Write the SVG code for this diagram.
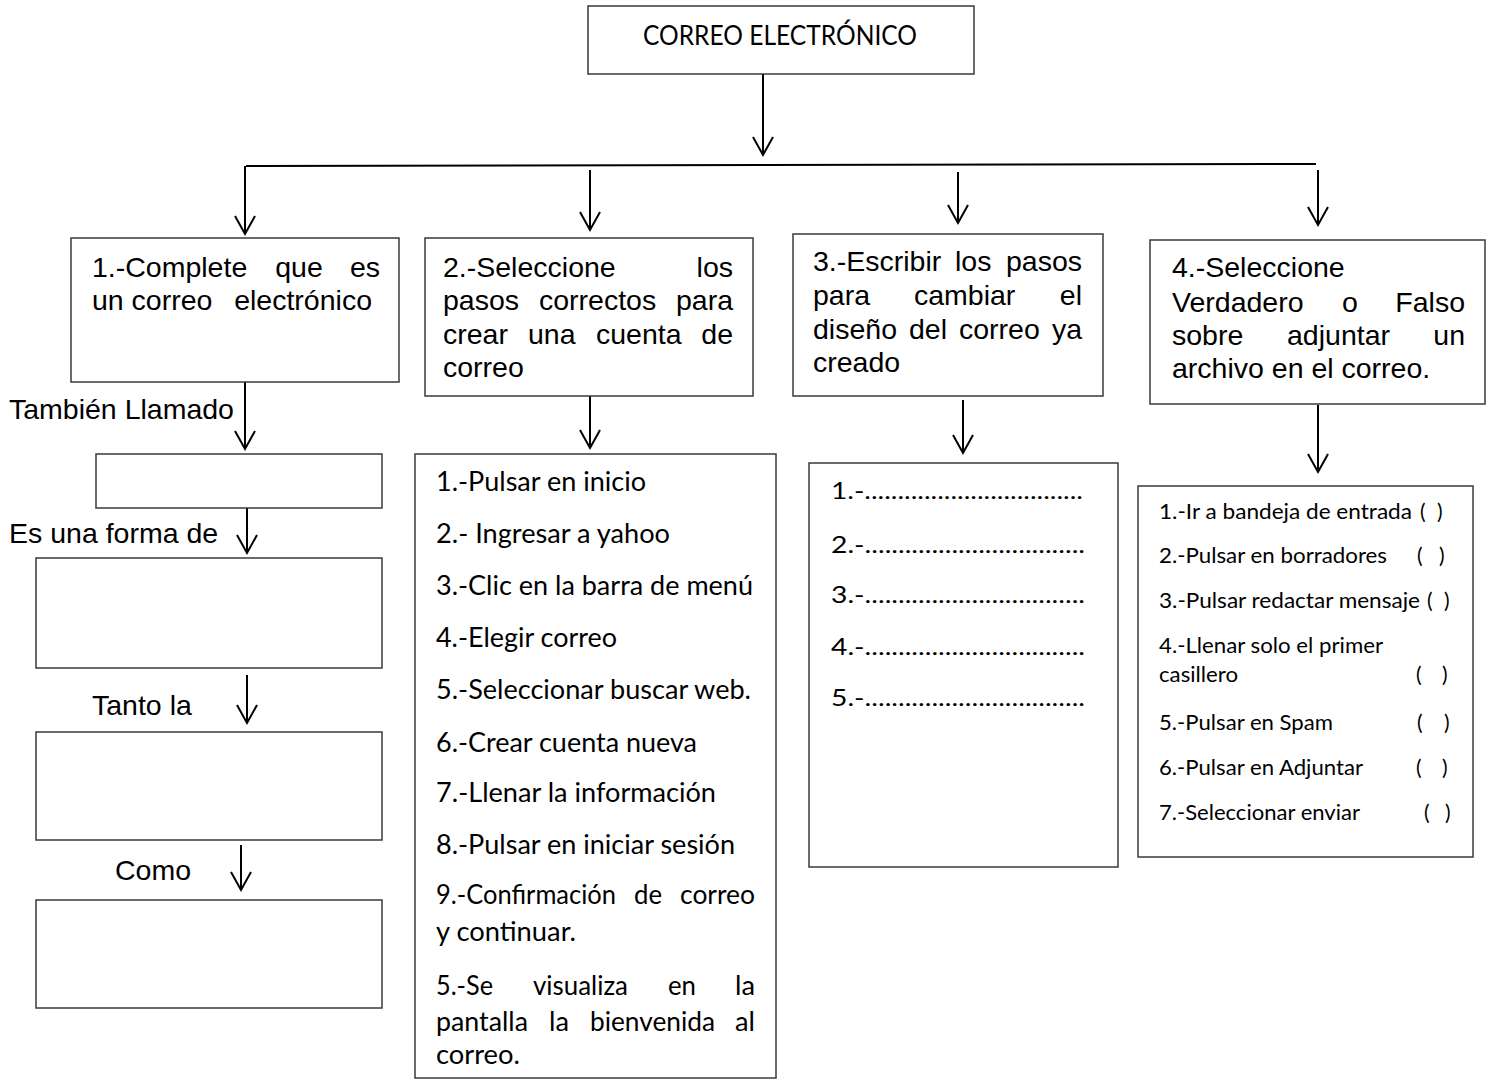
<svg xmlns="http://www.w3.org/2000/svg" width="1491" height="1080" viewBox="0 0 1491 1080">
  <style>
    .box { fill: #ffffff; stroke: #3a3a3a; stroke-width: 1.5; }
    .wire { fill: none; stroke: #000000; stroke-width: 2; }
    .arrow { fill: none; stroke: #000000; stroke-width: 2; marker-end: url(#vhead); }
    .ar { font-family: "Liberation Sans", Arial, sans-serif; font-size: 28.5px; fill: #000000; }
    .cal { font-family: Lato, "Open Sans", sans-serif; fill: #000000; }
    .t26 { font-size: 26px; }
    .t24 { font-size: 24px; }
    .t21 { font-size: 21px; }
    .title { font-size: 26px; }
  </style>
  <defs>
    <marker id="vhead" markerUnits="userSpaceOnUse" markerWidth="40" markerHeight="40" refX="0" refY="0" orient="auto" overflow="visible">
      <path d="M -18 -10 L 0 0 L -18 10" fill="none" stroke="#000000" stroke-width="2" stroke-linejoin="miter"/>
    </marker>
  </defs>
  <rect width="1491" height="1080" fill="#ffffff"/>

  <!-- connectors -->
  <g id="connectors">
    <line class="arrow" x1="763" y1="74" x2="763" y2="155"/>
    <line class="wire" x1="246" y1="166" x2="1316" y2="164"/>
    <line class="arrow" x1="245" y1="166" x2="245" y2="234"/>
    <line class="arrow" x1="590" y1="170" x2="590" y2="230"/>
    <line class="arrow" x1="958" y1="172" x2="958" y2="223"/>
    <line class="arrow" x1="1318" y1="170" x2="1318" y2="225"/>
    <line class="arrow" x1="245" y1="382" x2="245" y2="449"/>
    <line class="arrow" x1="247" y1="508" x2="247" y2="553"/>
    <line class="arrow" x1="247" y1="675" x2="247" y2="723"/>
    <line class="arrow" x1="241" y1="845" x2="241" y2="890"/>
    <line class="arrow" x1="590" y1="396" x2="590" y2="448"/>
    <line class="arrow" x1="963" y1="400" x2="963" y2="453"/>
    <line class="arrow" x1="1318" y1="405" x2="1318" y2="472"/>
  </g>

  <!-- root -->
  <g id="node-root">
    <rect class="box" x="588" y="6" width="386" height="68"/>
    <text class="cal title" x="780" y="45" text-anchor="middle" textLength="274" lengthAdjust="spacingAndGlyphs">CORREO ELECTRÓNICO</text>
  </g>

  <!-- branch 1 -->
  <g id="node-b1">
    <rect class="box" x="71" y="238" width="328" height="144"/>
    <text class="ar" x="92" y="277">1.-Complete</text>
    <text class="ar" x="299" y="277" text-anchor="middle">que</text>
    <text class="ar" x="380" y="277" text-anchor="end">es</text>
    <text class="ar" x="92" y="310">un correo</text>
    <text class="ar" x="372" y="310" text-anchor="end">electrónico</text>
  </g>
  <g id="label-tambien">
    <text class="ar" x="9" y="419">También Llamado</text>
  </g>
  <g id="node-b1-a">
    <rect class="box" x="96" y="454" width="286" height="54"/>
  </g>
  <g id="label-forma">
    <text class="ar" x="9" y="543">Es una forma de</text>
  </g>
  <g id="node-b1-b">
    <rect class="box" x="36" y="558" width="346" height="110"/>
  </g>
  <g id="label-tanto">
    <text class="ar" x="92" y="715">Tanto la</text>
  </g>
  <g id="node-b1-c">
    <rect class="box" x="36" y="732" width="346" height="108"/>
  </g>
  <g id="label-como">
    <text class="ar" x="115" y="880">Como</text>
  </g>
  <g id="node-b1-d">
    <rect class="box" x="36" y="900" width="346" height="108"/>
  </g>

  <!-- branch 2 -->
  <g id="node-b2">
    <rect class="box" x="425" y="238" width="328" height="158"/>
    <text class="ar" x="443" y="277">2.-Seleccione</text>
    <text class="ar" x="733" y="277" text-anchor="end">los</text>
    <text class="ar" x="443" y="310">pasos</text>
    <text class="ar" x="539" y="310">correctos</text>
    <text class="ar" x="733" y="310" text-anchor="end">para</text>
    <text class="ar" x="443" y="344">crear</text>
    <text class="ar" x="528" y="344">una</text>
    <text class="ar" x="596" y="344">cuenta</text>
    <text class="ar" x="733" y="344" text-anchor="end">de</text>
    <text class="ar" x="443" y="377">correo</text>
  </g>
  <g id="node-b2-list">
    <rect class="box" x="415" y="454" width="361" height="624"/>
    <text class="cal t26" x="436" y="491" textLength="210" lengthAdjust="spacingAndGlyphs">1.-Pulsar en inicio</text>
    <text class="cal t26" x="436" y="543" textLength="234" lengthAdjust="spacingAndGlyphs">2.- Ingresar a yahoo</text>
    <text class="cal t26" x="436" y="595" textLength="317" lengthAdjust="spacingAndGlyphs">3.-Clic en la barra de menú</text>
    <text class="cal t26" x="436" y="647" textLength="181" lengthAdjust="spacingAndGlyphs">4.-Elegir correo</text>
    <text class="cal t26" x="436" y="699" textLength="315" lengthAdjust="spacingAndGlyphs">5.-Seleccionar buscar web.</text>
    <text class="cal t26" x="436" y="752" textLength="261" lengthAdjust="spacingAndGlyphs">6.-Crear cuenta nueva</text>
    <text class="cal t26" x="436" y="802" textLength="280" lengthAdjust="spacingAndGlyphs">7.-Llenar la información</text>
    <text class="cal t26" x="436" y="854" textLength="299" lengthAdjust="spacingAndGlyphs">8.-Pulsar en iniciar sesión</text>
    <text class="cal t26" x="436" y="904" textLength="180" lengthAdjust="spacingAndGlyphs">9.-Confirmación</text>
    <text class="cal t26" x="634" y="904" textLength="28" lengthAdjust="spacingAndGlyphs">de</text>
    <text class="cal t26" x="680" y="904" textLength="75" lengthAdjust="spacingAndGlyphs">correo</text>
    <text class="cal t26" x="436" y="941" textLength="140" lengthAdjust="spacingAndGlyphs">y continuar.</text>
    <text class="cal t26" x="436" y="995" textLength="57" lengthAdjust="spacingAndGlyphs">5.-Se</text>
    <text class="cal t26" x="533" y="995" textLength="95" lengthAdjust="spacingAndGlyphs">visualiza</text>
    <text class="cal t26" x="668" y="995" textLength="28" lengthAdjust="spacingAndGlyphs">en</text>
    <text class="cal t26" x="735" y="995" textLength="20" lengthAdjust="spacingAndGlyphs">la</text>
    <text class="cal t26" x="436" y="1031" textLength="92" lengthAdjust="spacingAndGlyphs">pantalla</text>
    <text class="cal t26" x="549" y="1031" textLength="20" lengthAdjust="spacingAndGlyphs">la</text>
    <text class="cal t26" x="590" y="1031" textLength="125" lengthAdjust="spacingAndGlyphs">bienvenida</text>
    <text class="cal t26" x="735" y="1031" textLength="20" lengthAdjust="spacingAndGlyphs">al</text>
    <text class="cal t26" x="436" y="1064" textLength="84" lengthAdjust="spacingAndGlyphs">correo.</text>
  </g>

  <!-- branch 3 -->
  <g id="node-b3">
    <rect class="box" x="793" y="234" width="310" height="162"/>
    <text class="ar" x="813" y="271">3.-Escribir</text>
    <text class="ar" x="955" y="271">los</text>
    <text class="ar" x="1082" y="271" text-anchor="end">pasos</text>
    <text class="ar" x="813" y="305">para</text>
    <text class="ar" x="914" y="305">cambiar</text>
    <text class="ar" x="1082" y="305" text-anchor="end">el</text>
    <text class="ar" x="813" y="339">diseño</text>
    <text class="ar" x="909" y="339">del</text>
    <text class="ar" x="959" y="339">correo</text>
    <text class="ar" x="1082" y="339" text-anchor="end">ya</text>
    <text class="ar" x="813" y="372">creado</text>
  </g>
  <g id="node-b3-list">
    <rect class="box" x="809" y="463" width="309" height="404"/>
    <text class="cal t24" x="831" y="499" textLength="252" lengthAdjust="spacingAndGlyphs">1.-.................................</text>
    <text class="cal t24" x="831" y="553" textLength="254" lengthAdjust="spacingAndGlyphs">2.-.................................</text>
    <text class="cal t24" x="831" y="603" textLength="254" lengthAdjust="spacingAndGlyphs">3.-.................................</text>
    <text class="cal t24" x="831" y="655" textLength="254" lengthAdjust="spacingAndGlyphs">4.-.................................</text>
    <text class="cal t24" x="831" y="706" textLength="254" lengthAdjust="spacingAndGlyphs">5.-.................................</text>
  </g>

  <!-- branch 4 -->
  <g id="node-b4">
    <rect class="box" x="1150" y="240" width="335" height="164"/>
    <text class="ar" x="1172" y="277">4.-Seleccione</text>
    <text class="ar" x="1172" y="312">Verdadero</text>
    <text class="ar" x="1342" y="312">o</text>
    <text class="ar" x="1465" y="312" text-anchor="end">Falso</text>
    <text class="ar" x="1172" y="345">sobre</text>
    <text class="ar" x="1287" y="345">adjuntar</text>
    <text class="ar" x="1465" y="345" text-anchor="end">un</text>
    <text class="ar" x="1172" y="378">archivo en el correo.</text>
  </g>
  <g id="node-b4-list">
    <rect class="box" x="1138" y="486" width="335" height="371"/>
    <text class="cal t21" x="1159" y="519" textLength="253" lengthAdjust="spacingAndGlyphs">1.-Ir a bandeja de entrada</text>
    <text class="cal t21" x="1420" y="519">(</text><text class="cal t21" x="1437" y="519">)</text>
    <text class="cal t21" x="1159" y="563" textLength="228" lengthAdjust="spacingAndGlyphs">2.-Pulsar en borradores</text>
    <text class="cal t21" x="1417" y="563">(</text><text class="cal t21" x="1439" y="563">)</text>
    <text class="cal t21" x="1159" y="608" textLength="261" lengthAdjust="spacingAndGlyphs">3.-Pulsar redactar mensaje</text>
    <text class="cal t21" x="1427" y="608">(</text><text class="cal t21" x="1444" y="608">)</text>
    <text class="cal t21" x="1159" y="653" textLength="224" lengthAdjust="spacingAndGlyphs">4.-Llenar solo el primer</text>
    <text class="cal t21" x="1159" y="682" textLength="79" lengthAdjust="spacingAndGlyphs">casillero</text>
    <text class="cal t21" x="1416" y="682">(</text><text class="cal t21" x="1442" y="682">)</text>
    <text class="cal t21" x="1159" y="730" textLength="174" lengthAdjust="spacingAndGlyphs">5.-Pulsar en Spam</text>
    <text class="cal t21" x="1417" y="730">(</text><text class="cal t21" x="1444" y="730">)</text>
    <text class="cal t21" x="1159" y="775" textLength="204" lengthAdjust="spacingAndGlyphs">6.-Pulsar en Adjuntar</text>
    <text class="cal t21" x="1416" y="775">(</text><text class="cal t21" x="1442" y="775">)</text>
    <text class="cal t21" x="1159" y="820" textLength="201" lengthAdjust="spacingAndGlyphs">7.-Seleccionar enviar</text>
    <text class="cal t21" x="1424" y="820">(</text><text class="cal t21" x="1445" y="820">)</text>
  </g>
</svg>
